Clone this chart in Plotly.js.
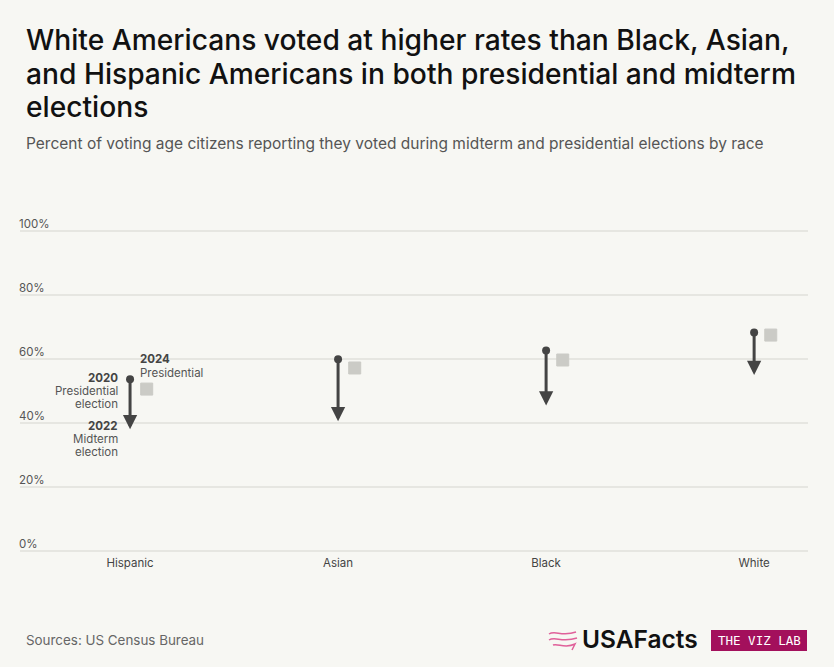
<!DOCTYPE html>
<html>
<head>
<meta charset="utf-8">
<script src="https://cdn.plot.ly/plotly-3.0.1.min.js"></script>
<style>
  html, body { margin: 0; padding: 0; background: #f7f7f3; }
  #chart { width: 834px; height: 667px; }
</style>
</head>
<body>
<div id="chart"></div>
<script>
const categories = ["Hispanic", "Asian", "Black", "White"];
const presidential2020 = [53.7, 59.9, 62.7, 68.3];
const midterm2022 = [38.0, 40.5, 45.5, 55.0];
const presidential2024 = [50.6, 57.2, 59.7, 67.5];
const yTickVals = [0, 20, 40, 60, 80, 100];
const yTickText = ["0%", "20%", "40%", "60%", "80%", "100%"];
const titleLines = [
  "White Americans voted at higher rates than Black, Asian,",
  "and Hispanic Americans in both presidential and midterm",
  "elections"
];

const FONT = "Inter, 'Noto Sans', sans-serif";
const DARK = "#444444";

const traces = [];
categories.forEach((c, i) => {
  traces.push({
    type: "scatter",
    mode: "lines",
    x: [c, c],
    y: [presidential2020[i], midterm2022[i] + 2],
    line: { color: DARK, width: 3 },
    hoverinfo: "skip",
    showlegend: false
  });
});
traces.push({
  type: "scatter",
  mode: "markers",
  x: categories,
  y: presidential2020,
  marker: { symbol: "circle", size: 8, color: DARK },
  showlegend: false
});
traces.push({
  type: "scatter",
  mode: "markers",
  x: categories,
  y: presidential2024,
  xaxis: "x2",
  marker: { symbol: "square", size: 12, color: "#cbcbc6", line: { color: "#cbcbc6", width: 1 } },
  showlegend: false
});

const annotations = [];
categories.forEach((c, i) => {
  annotations.push({
    x: c, y: midterm2022[i],
    ax: c, ay: midterm2022[i] + 4,
    xref: "x", yref: "y", axref: "x", ayref: "y",
    showarrow: true, arrowhead: 2, arrowsize: 0.95, arrowwidth: 3,
    arrowcolor: DARK, standoff: 0, text: ""
  });
});

const labelLines = [
  { t: "<b>2020</b>", x: 119, y: 378, a: "right", c: "#444" },
  { t: "Presidential", x: 119, y: 391, a: "right", c: "#555" },
  { t: "election", x: 119, y: 404, a: "right", c: "#555" },
  { t: "<b>2022</b>", x: 119, y: 426, a: "right", c: "#444" },
  { t: "Midterm", x: 119, y: 439, a: "right", c: "#555" },
  { t: "election", x: 119, y: 452, a: "right", c: "#555" },
  { t: "<b>2024</b>", x: 139, y: 359, a: "left", c: "#444" },
  { t: "Presidential", x: 139, y: 373, a: "left", c: "#555" }
];
labelLines.forEach(l => {
  annotations.push({
    x: l.x, y: l.y, showarrow: false, text: l.t,
    xanchor: l.a, yanchor: "middle", borderpad: 0,
    font: { family: FONT, size: 11.5, color: l.c }
  });
});

yTickVals.forEach((v, i) => {
  annotations.push({
    x: 0, y: v, xref: "paper", yref: "y", xanchor: "left", yanchor: "bottom",
    xshift: -3, yshift: -2, showarrow: false, text: yTickText[i],
    font: { family: FONT, size: 11.5, color: "#555" }
  });
});
const titleY = [40, 74, 107];
titleLines.forEach((t, i) => {
  annotations.push({
    x: 24, y: titleY[i], showarrow: false, text: t,
    font: { family: FONT, size: 28.2, color: "#111", weight: 500 },
    xanchor: "left", yanchor: "middle"
  });
});
annotations.push({
  x: 24, y: 144, showarrow: false,
  text: "Percent of voting age citizens reporting they voted during midterm and presidential elections by race",
  font: { family: FONT, size: 15.5, color: "#555" },
  xanchor: "left", yanchor: "middle"
});
annotations.push({
  x: 24, y: 640, showarrow: false,
  text: "Sources: US Census Bureau",
  font: { family: FONT, size: 13.4, color: "#666" },
  xanchor: "left", yanchor: "middle"
});
annotations.push({
  x: 580, y: 639, showarrow: false,
  text: "USAFacts",
  font: { family: FONT, size: 24.5, color: "#111", weight: 600 },
  xanchor: "left", yanchor: "middle"
});
annotations.push({
  x: 759, y: 640, showarrow: false,
  text: "THE VIZ LAB",
  font: { family: "'DejaVu Sans Mono', 'Liberation Mono', monospace", size: 12.5, color: "#ffffff" },
  xanchor: "center", yanchor: "middle"
});

const W = 834, H = 667, M = { l: 20, r: 26, t: 228, b: 113 };
annotations.forEach(a => {
  if (a.xref === undefined) { a.xref = "paper"; a.yref = "paper"; }
  if (a.xref === "paper" && a.x > 1.5) a.x = (a.x - M.l) / (W - M.l - M.r);
  if (a.yref === "paper" && a.y > 1.5) a.y = 1 - (a.y - M.t) / (H - M.t - M.b);
});

const px = (x) => (x - M.l) / (W - M.l - M.r);
const py = (y) => 1 - (y - M.t) / (H - M.t - M.b);
const pink = { color: "#e0609a", width: 1.5 };

const shapes = [
  { type: "rect", xref: "paper", yref: "paper",
    x0: px(711), x1: px(807), y0: py(630), y1: py(651),
    fillcolor: "#a3105c", line: { width: 0 } },
  { type: "path", xref: "paper", yref: "paper",
    path: `M ${px(549)} ${py(634)} C ${px(555)} ${py(630)}, ${px(562)} ${py(637)}, ${px(576)} ${py(632)}`,
    line: pink },
  { type: "path", xref: "paper", yref: "paper",
    path: `M ${px(549)} ${py(640)} C ${px(555)} ${py(636)}, ${px(562)} ${py(643)}, ${px(577)} ${py(638)}`,
    line: pink },
  { type: "path", xref: "paper", yref: "paper",
    path: `M ${px(553)} ${py(645)} C ${px(558)} ${py(643)}, ${px(565)} ${py(649)}, ${px(575)} ${py(644)} L ${px(572)} ${py(650)}`,
    line: pink }
];

const layout = {
  width: W, height: H,
  paper_bgcolor: "#f7f7f3",
  plot_bgcolor: "#f7f7f3",
  margin: M,
  showlegend: false,
  xaxis: {
    type: "category",
    range: [-0.529, 3.259],
    showgrid: false, zeroline: false, showline: false,
    ticks: "", tickfont: { family: FONT, size: 11.5, color: "#444" },
    fixedrange: true
  },
  xaxis2: {
    type: "category",
    overlaying: "x",
    range: [-0.529 - 0.08, 3.259 - 0.08],
    visible: false,
    fixedrange: true
  },
  yaxis: {
    range: [-1, 101],
    tickvals: yTickVals,
    showticklabels: false,
    showgrid: true, gridcolor: "#e6e6e1", gridwidth: 1.5,
    zeroline: false, showline: false,
    fixedrange: true
  },
  annotations: annotations,
  shapes: shapes
};

Plotly.newPlot("chart", traces, layout, { displayModeBar: false, staticPlot: true });
</script>
</body>
</html>
